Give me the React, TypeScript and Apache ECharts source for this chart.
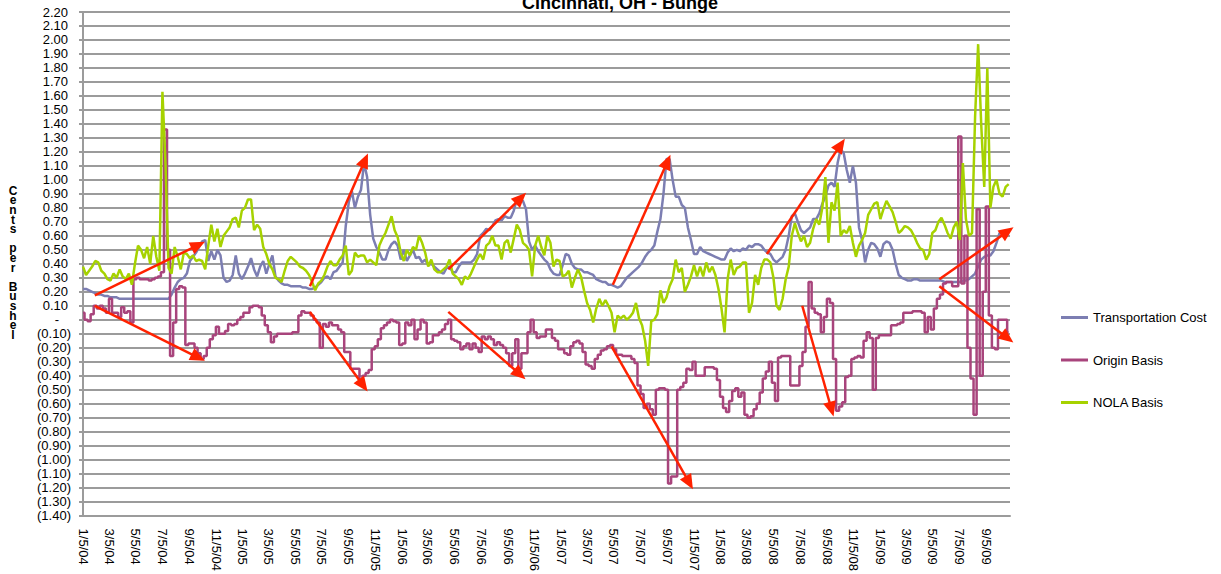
import React, { useEffect, useRef } from 'react';
import * as echarts from 'echarts';

const DAY = 86400000;
const startDate = Date.UTC(2004, 0, 5); // first weekly observation (1/5/04)

const seriesNames = ['Transportation Cost', 'Origin Basis', 'NOLA Basis'];

const tickLabels = [
  '1/5/04', '3/5/04', '5/5/04', '7/5/04', '9/5/04', '11/5/04',
  '1/5/05', '3/5/05', '5/5/05', '7/5/05', '9/5/05', '11/5/05',
  '1/5/06', '3/5/06', '5/5/06', '7/5/06', '9/5/06', '11/5/06',
  '1/5/07', '3/5/07', '5/5/07', '7/5/07', '9/5/07', '11/5/07',
  '1/5/08', '3/5/08', '5/5/08', '7/5/08', '9/5/08', '11/5/08',
  '1/5/09', '3/5/09', '5/5/09', '7/5/09', '9/5/09',
];

// weekly values, starting 1/5/04
const transportationCost = [
  0.22, 0.22, 0.21, 0.20, 0.19, 0.18, 0.18, 0.17, 0.17, 0.16,
  0.16, 0.16, 0.15, 0.15, 0.15, 0.15, 0.15, 0.15, 0.15, 0.15,
  0.15, 0.15, 0.15, 0.15, 0.15, 0.15, 0.15, 0.15, 0.15, 0.18,
  0.23, 0.27, 0.29, 0.30, 0.33, 0.42, 0.45, 0.48, 0.52, 0.56,
  0.57, 0.42, 0.49, 0.43, 0.50, 0.46, 0.30, 0.27, 0.28, 0.32,
  0.46, 0.33, 0.29, 0.33, 0.38, 0.44, 0.36, 0.31, 0.38, 0.42,
  0.33, 0.40, 0.46, 0.31, 0.28, 0.26, 0.25, 0.25, 0.24, 0.24,
  0.24, 0.24, 0.23, 0.23, 0.22, 0.22, 0.23, 0.25, 0.27, 0.30,
  0.31, 0.29, 0.34, 0.35, 0.38, 0.41, 0.67, 0.84, 0.92, 0.80,
  0.88, 0.93, 1.12, 1.02, 0.75, 0.58, 0.52, 0.48, 0.43, 0.43,
  0.50, 0.54, 0.56, 0.53, 0.43, 0.50, 0.42, 0.46, 0.50, 0.44,
  0.45, 0.41, 0.43, 0.39, 0.40, 0.38, 0.36, 0.34, 0.33, 0.37,
  0.38, 0.34, 0.34, 0.38, 0.41, 0.41, 0.41, 0.41, 0.43, 0.47,
  0.60, 0.62, 0.65, 0.64, 0.67, 0.71, 0.72, 0.71, 0.74, 0.73,
  0.73, 0.78, 0.86, 0.86, 0.85, 0.79, 0.56, 0.50, 0.53, 0.49,
  0.46, 0.43, 0.41, 0.36, 0.33, 0.32, 0.32, 0.39, 0.47, 0.46,
  0.40, 0.37, 0.36, 0.36, 0.34, 0.34, 0.33, 0.32, 0.29, 0.28,
  0.27, 0.27, 0.25, 0.25, 0.24, 0.23, 0.24, 0.27, 0.30, 0.32,
  0.34, 0.36, 0.38, 0.41, 0.45, 0.48, 0.50, 0.53, 0.63, 0.72,
  0.90, 1.15, 1.15, 1.00, 0.88, 0.88, 0.82, 0.80, 0.66, 0.57,
  0.47, 0.47, 0.52, 0.49, 0.48, 0.47, 0.46, 0.45, 0.44, 0.43,
  0.43, 0.48, 0.51, 0.49, 0.50, 0.49, 0.51, 0.50, 0.53, 0.52,
  0.54, 0.54, 0.53, 0.50, 0.48, 0.47, 0.43, 0.41, 0.43, 0.45,
  0.50, 0.60, 0.74, 0.76, 0.70, 0.64, 0.62, 0.64, 0.66, 0.72,
  0.72, 0.76, 0.83, 0.88, 0.96, 0.98, 0.95, 1.12, 1.22, 1.19,
  1.07, 0.98, 1.10, 0.98, 0.66, 0.57, 0.41, 0.50, 0.55, 0.54,
  0.51, 0.45, 0.54, 0.56, 0.55, 0.50, 0.40, 0.32, 0.30, 0.29,
  0.28, 0.28, 0.29, 0.29, 0.28, 0.28, 0.28, 0.28, 0.28, 0.28,
  0.28, 0.28, 0.27, 0.27, 0.27, 0.27, 0.27, 0.27, 0.28, 0.28,
  0.29, 0.31, 0.33, 0.38, 0.43, 0.45, 0.46, 0.46, 0.49, 0.55,
  0.62, 0.62, 0.60, 0.62,
];

const originBasis = [
  0.05, 0.00, -0.01, 0.04, 0.10, 0.08, 0.10, 0.08, 0.05, 0.15,
  0.05, 0.05, 0.02, 0.09, 0.05, 0.06, -0.02, 0.29, 0.30, 0.29,
  0.29, 0.29, 0.28, 0.29, 0.30, 0.31, 0.34, 1.36, 0.50, -0.26,
  -0.02, 0.22, 0.24, 0.23, -0.18, -0.17, -0.17, -0.20, -0.24, -0.28,
  -0.26, -0.20, -0.14, -0.11, -0.05, -0.10, -0.10, -0.08, -0.03, -0.04,
  -0.03, 0.00, 0.02, 0.05, 0.05, 0.09, 0.10, 0.10, 0.09, 0.03,
  -0.04, -0.09, -0.16, -0.12, -0.10, -0.10, -0.10, -0.10, -0.10, -0.09,
  -0.09, 0.03, 0.06, 0.05, 0.05, 0.03, 0.00, -0.02, -0.20, -0.03,
  -0.05, -0.02, -0.04, -0.04, -0.07, -0.09, -0.23, -0.23, -0.35, -0.35,
  -0.35, -0.45, -0.40, -0.38, -0.36, -0.21, -0.19, -0.14, -0.06, -0.04,
  -0.02, 0.00, -0.01, -0.02, -0.18, -0.17, -0.02, -0.04, 0.00, -0.14,
  -0.07, 0.00, -0.02, -0.17, -0.16, -0.11, -0.11, -0.09, -0.07, -0.03,
  0.00, -0.14, -0.15, -0.16, -0.21, -0.19, -0.17, -0.21, -0.17, -0.20,
  -0.23, -0.12, -0.14, -0.12, -0.14, -0.18, -0.16, -0.18, -0.20, -0.24,
  -0.33, -0.24, -0.14, -0.35, -0.24, -0.24, -0.09, 0.00, -0.09, -0.13,
  -0.12, -0.12, -0.07, -0.07, -0.13, -0.15, -0.21, -0.21, -0.24, -0.25,
  -0.19, -0.16, -0.15, -0.17, -0.23, -0.32, -0.33, -0.35, -0.28, -0.25,
  -0.22, -0.21, -0.19, -0.18, -0.21, -0.25, -0.25, -0.26, -0.26, -0.26,
  -0.28, -0.31, -0.47, -0.53, -0.63, -0.60, -0.64, -0.68, -0.50, -0.49,
  -0.49, -0.50, -1.17, -1.12, -1.12, -0.50, -0.48, -0.45, -0.35, -0.36,
  -0.30, -0.40, -0.40, -0.40, -0.34, -0.34, -0.34, -0.35, -0.43, -0.55,
  -0.63, -0.66, -0.58, -0.51, -0.49, -0.55, -0.52, -0.68, -0.70, -0.69,
  -0.64, -0.60, -0.52, -0.42, -0.37, -0.30, -0.45, -0.58, -0.27, -0.26,
  -0.26, -0.26, -0.47, -0.47, -0.47, -0.33, -0.23, -0.05, 0.27, 0.08,
  0.05, 0.04, -0.09, 0.02, 0.15, 0.12, -0.28, -0.65, -0.62, -0.59,
  -0.41, -0.40, -0.28, -0.27, -0.26, -0.27, -0.15, -0.09, -0.13, -0.50,
  -0.13, -0.11, -0.11, -0.11, -0.11, -0.04, -0.04, -0.03, -0.02, 0.05,
  0.05, 0.05, 0.06, 0.06, 0.06, 0.05, -0.09, 0.02, -0.07, 0.08,
  0.15, 0.18, 0.26, 0.27, 0.27, 0.24, 0.24, 1.31, 0.26, 0.60,
  -0.20, -0.42, -0.68, 0.79, -0.40, 0.20, 0.81, 0.03, -0.20, -0.21,
  0.00, 0.00, 0.00, -0.09,
];

const nolaBasis = [
  0.38, 0.32, 0.35, 0.38, 0.42, 0.41, 0.35, 0.33, 0.29, 0.28,
  0.33, 0.30, 0.36, 0.31, 0.29, 0.33, 0.25, 0.40, 0.53, 0.50,
  0.44, 0.52, 0.40, 0.60, 0.45, 0.35, 1.63, 1.12, 0.37, 0.33,
  0.52, 0.45, 0.36, 0.48, 0.47, 0.44, 0.46, 0.42, 0.43, 0.42,
  0.36, 0.53, 0.68, 0.56, 0.65, 0.52, 0.60, 0.63, 0.66, 0.72,
  0.73, 0.66, 0.78, 0.80, 0.86, 0.86, 0.64, 0.68, 0.65, 0.52,
  0.47, 0.40, 0.36, 0.30, 0.29, 0.27, 0.35, 0.42, 0.45, 0.43,
  0.41, 0.38, 0.37, 0.35, 0.32, 0.27, 0.21, 0.26, 0.28, 0.32,
  0.38, 0.42, 0.39, 0.39, 0.43, 0.46, 0.53, 0.32, 0.35, 0.48,
  0.45, 0.46, 0.46, 0.41, 0.43, 0.41, 0.39, 0.53, 0.58, 0.62,
  0.68, 0.74, 0.64, 0.59, 0.48, 0.42, 0.50, 0.46, 0.52, 0.50,
  0.60, 0.55, 0.48, 0.38, 0.43, 0.36, 0.34, 0.34, 0.36, 0.38,
  0.43, 0.33, 0.31, 0.29, 0.25, 0.31, 0.29, 0.33, 0.38, 0.43,
  0.47, 0.43, 0.53, 0.55, 0.60, 0.53, 0.53, 0.43, 0.55, 0.57,
  0.48, 0.58, 0.68, 0.64, 0.55, 0.53, 0.50, 0.31, 0.53, 0.60,
  0.52, 0.46, 0.60, 0.55, 0.38, 0.43, 0.42, 0.31, 0.32, 0.35,
  0.23, 0.30, 0.36, 0.31, 0.21, 0.12, 0.07, -0.02, 0.08, 0.15,
  0.10, 0.14, 0.10, 0.05, -0.09, 0.03, 0.01, 0.03, 0.00, 0.02,
  0.05, 0.12, 0.01, -0.04, -0.15, -0.33, -0.01, 0.00, 0.04, 0.21,
  0.12, 0.16, 0.24, 0.29, 0.43, 0.34, 0.37, 0.20, 0.25, 0.31,
  0.39, 0.31, 0.38, 0.31, 0.41, 0.34, 0.38, 0.32, 0.22, 0.08,
  -0.09, 0.29, 0.43, 0.32, 0.37, 0.38, 0.41, 0.41, 0.05, 0.12,
  0.32, 0.25, 0.37, 0.43, 0.43, 0.41, 0.30, 0.10, 0.07, 0.15,
  0.29, 0.38, 0.60, 0.69, 0.62, 0.56, 0.60, 0.52, 0.55, 0.65,
  0.72, 0.68, 0.80, 1.02, 0.55, 0.84, 0.78, 0.98, 0.60, 0.64,
  0.62, 0.67, 0.55, 0.45, 0.53, 0.57, 0.62, 0.75, 0.79, 0.83,
  0.84, 0.72, 0.79, 0.85, 0.81, 0.77, 0.70, 0.62, 0.64, 0.67,
  0.66, 0.64, 0.60, 0.55, 0.51, 0.50, 0.43, 0.47, 0.62, 0.64,
  0.70, 0.73, 0.68, 0.62, 0.58, 0.66, 0.70, 0.57, 1.12, 0.72,
  0.60, 0.62, 1.45, 1.97, 1.40, 0.95, 1.80, 0.80, 0.95, 1.00,
  0.90, 0.88, 0.95, 0.97,
];

// annotation arrows: [start day, start value, end day, end value] (days after 1/5/04)
const arrows = [
  [27, 0.175, 264, 0.534],
  [27, 0.10, 264, -0.27],
  [520, 0.24, 646, 1.14],
  [520, 0.056, 642, -0.47],
  [837, 0.36, 1003, 0.87],
  [837, 0.056, 1001, -0.39],
  [1214, 0.25, 1339, 1.13],
  [1211, -0.19, 1389, -1.165],
  [1567, 0.47, 1736, 1.25],
  [1648, 0.10, 1715, -0.64],
  [1962, 0.29, 2118, 0.63],
  [1962, 0.24, 2118, -0.13],
];

const colors = ['#7C7EB2', '#A8447C', '#A6D200'];

function dayOf(label: string): number {
  const [m, d, y] = label.split('/').map(Number);
  return Math.round((Date.UTC(2000 + y, m - 1, d) - startDate) / DAY);
}

function weekly(values: number[]) {
  return values.map((v, i) => [i * 7, v]);
}

export default function App() {
  const ref = useRef<HTMLDivElement>(null);

  useEffect(() => {
    if (!ref.current) return;
    const chart = echarts.init(ref.current, undefined, { renderer: 'svg' });
    const tickDays = tickLabels.map(dayOf);
    const labelByDay = new Map<number, string>();
    tickDays.forEach((d, i) => labelByDay.set(d, tickLabels[i]));
    const font = 'Arial, "Liberation Sans", sans-serif';
    const gridColor = '#9B9B9B';
    const lineIcon = 'path://M0 0H27V3H0Z';

    const option: any = {
      animation: false,
      backgroundColor: '#ffffff',
      title: {
        text: 'Cincinnati, OH - Bunge',
        left: 620,
        textAlign: 'center',
        top: -6,
        padding: 0,
        textStyle: { fontSize: 18, fontWeight: 'bold', fontFamily: font, color: '#000' },
      },
      graphic: [
        {
          type: 'text',
          x: 13,
          y: 186,
          style: {
            text: 'C\ne\nn\nt\ns\n\np\ne\nr\n\nB\nu\ns\nh\ne\nl',
            font: 'bold 12px Arial, "Liberation Sans", sans-serif',
            lineHeight: 9.6,
            align: 'center',
            verticalAlign: 'top',
            fill: '#000',
          },
        },
      ],
      legend: {
        data: seriesNames.map((name) => ({ name, icon: lineIcon })),
        orient: 'vertical',
        left: 1061,
        top: 311,
        padding: 0,
        itemWidth: 27,
        itemHeight: 14,
        itemGap: 29.5,
        symbolKeepAspect: true,
        textStyle: { fontSize: 13, color: '#000', fontFamily: font },
      },
      grid: { left: 83, right: 211, top: 12, bottom: 57, containLabel: false },
      xAxis: {
        type: 'value',
        min: 0,
        max: 2124,
        axisLine: { show: true, onZero: false, lineStyle: { color: gridColor, width: 2 } },
        axisTick: { show: false },
        splitLine: { show: false },
        axisLabel: {
          customValues: tickDays,
          rotate: -90,
          margin: 13,
          fontSize: 13,
          color: '#000',
          fontFamily: font,
          formatter: (v: number) => labelByDay.get(Math.round(v)) ?? '',
        },
      },
      yAxis: {
        type: 'value',
        min: -1.4,
        max: 2.2,
        interval: 0.1,
        axisLine: { show: true, lineStyle: { color: gridColor, width: 2 } },
        axisTick: { show: true, length: 4, lineStyle: { color: gridColor, width: 2 } },
        splitLine: { show: true, lineStyle: { color: gridColor, width: 2 } },
        axisLabel: {
          margin: 12,
          fontSize: 13,
          color: '#000',
          fontFamily: font,
          formatter: (v: number) => {
            const r = Math.round(v * 100) / 100;
            if (Math.abs(r) < 1e-9) return '{z|-}';
            if (r < 0) return '{n|(' + Math.abs(r).toFixed(2) + ')}';
            return '{p|' + r.toFixed(2) + '}';
          },
          rich: {
            p: { fontSize: 13, color: '#000', fontFamily: font, padding: [0, 3, 0, 0] },
            n: { fontSize: 13, color: '#000', fontFamily: font },
            z: { fontSize: 13, color: '#000', fontFamily: font, padding: [0, 12, 0, 0] },
          },
        },
      },
      series: [
        {
          name: seriesNames[0],
          type: 'line',
          data: weekly(transportationCost),
          showSymbol: false,
          symbol: 'none',
          color: colors[0],
          lineStyle: { color: colors[0], width: 2.5 },
        },
        {
          name: seriesNames[1],
          type: 'line',
          step: 'middle',
          data: weekly(originBasis),
          showSymbol: false,
          symbol: 'none',
          color: colors[1],
          lineStyle: { color: colors[1], width: 2.5 },
        },
        {
          name: seriesNames[2],
          type: 'line',
          data: weekly(nolaBasis),
          showSymbol: false,
          symbol: 'none',
          color: colors[2],
          lineStyle: { color: colors[2], width: 2.5 },
          markLine: {
            silent: true,
            symbol: ['none', 'triangle'],
            symbolSize: [13, 15],
            label: { show: false },
            lineStyle: { color: '#FF2200', width: 2.5, type: 'solid' },
            emphasis: { disabled: true },
            data: arrows.map(([x1, y1, x2, y2]) => [
              { coord: [x1, y1], lineStyle: { color: '#FF2200' }, itemStyle: { color: '#FF2200' } },
              { coord: [x2, y2], lineStyle: { color: '#FF2200' }, itemStyle: { color: '#FF2200' } },
            ]),
          },
        },
      ],
    };

    chart.setOption(option);
    return () => chart.dispose();
  }, []);

  return (
    <div
      ref={ref}
      style={{ position: 'fixed', left: 0, top: 0, width: 1221, height: 574, background: '#fff' }}
    />
  );
}
